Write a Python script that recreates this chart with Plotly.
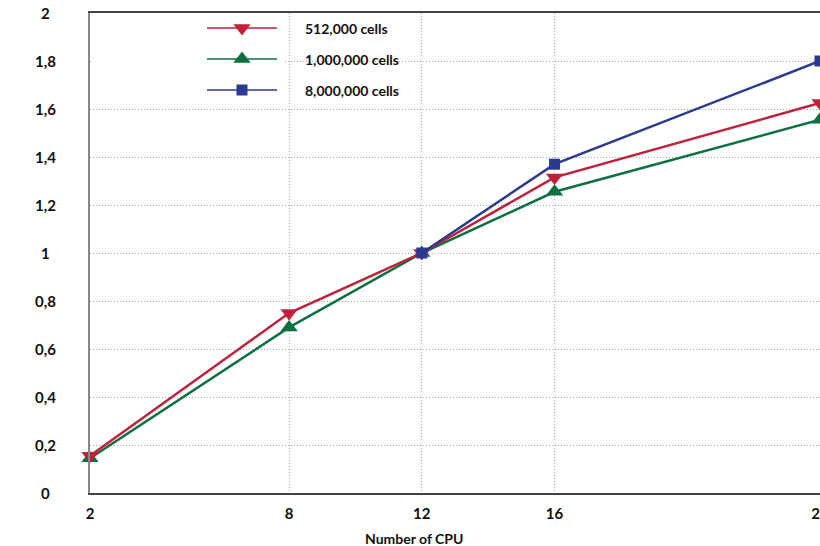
import plotly.graph_objects as go

cpu = [2, 8, 12, 16, 24]
cells_512k = [0.155, 0.75, 1.0, 1.315, 1.625]
cells_1m = [0.145, 0.69, 1.0, 1.255, 1.555]
cpu_8m = [12, 16, 24]
cells_8m = [1.0, 1.37, 1.80]
series_names = ["512,000 cells", "1,000,000 cells", "8,000,000 cells"]
y_ticks = [0, 0.2, 0.4, 0.6, 0.8, 1.0, 1.2, 1.4, 1.6, 1.8, 2.0]
y_ticktext = ["0", "0,2", "0,4", "0,6", "0,8", "1", "1,2", "1,4", "1,6", "1,8", "2"]
x_ticks = [2, 8, 12, 16, 24]

RED = "#C0203A"
GREEN = "#0D7040"
BLUE = "#2B3990"
FONT = "Lato"
GRID = "#a8a8a8"

fig = go.Figure()
common = dict(mode="lines+markers", cliponaxis=False, showlegend=False)
fig.add_trace(go.Scatter(x=cpu, y=cells_1m, name=series_names[1],
                         line=dict(color=GREEN, width=2.5),
                         marker=dict(symbol="triangle-up", size=15, color=GREEN), **common))
fig.add_trace(go.Scatter(x=cpu, y=cells_512k, name=series_names[0],
                         line=dict(color=RED, width=2.5),
                         marker=dict(symbol="triangle-down", size=15, color=RED), **common))
fig.add_trace(go.Scatter(x=cpu_8m, y=cells_8m, name=series_names[2],
                         line=dict(color=BLUE, width=2.5),
                         marker=dict(symbol="square", size=11, color=BLUE), **common))

# Manual legend on an overlay axis measured in pixels of the plot area
# white box behind legend (covers gridlines left of x=8)
fig.add_trace(go.Scatter(x=[91, 285, 285, 91, 91], y=[15, 15, 102, 102, 15],
                         xaxis="x2", yaxis="y2", mode="lines", fill="toself",
                         fillcolor="white", line=dict(width=0, color="white"),
                         showlegend=False, hoverinfo="skip"))
leg_colors = [RED, GREEN, BLUE]
leg_symbols = ["triangle-down", "triangle-up", "square"]
leg_sizes = [15, 15, 11]
leg_rows = [28, 59, 90]
for name, c, s, sz, yy in zip(series_names, leg_colors, leg_symbols, leg_sizes, leg_rows):
    fig.add_trace(go.Scatter(x=[207, 242, 277], y=[yy, yy, yy], xaxis="x2", yaxis="y2",
                             mode="lines", line=dict(color=c, width=1.5),
                             showlegend=False, hoverinfo="skip"))
    fig.add_trace(go.Scatter(x=[242], y=[yy], xaxis="x2", yaxis="y2", mode="markers",
                             marker=dict(symbol=s, size=sz, color=c),
                             showlegend=False, hoverinfo="skip"))
    fig.add_annotation(x=303, y=yy, xref="x2", yref="y2", text=name, showarrow=False,
                       xanchor="left", yanchor="middle",
                       font=dict(family=FONT, size=14, color="#111", weight="bold"))

# y tick labels (centered)
for v, t in zip(y_ticks, y_ticktext):
    fig.add_annotation(x=0, y=v, xref="paper", yref="y", text=t, showarrow=False,
                       xanchor="center", yanchor="middle", xshift=-45,
                       font=dict(family=FONT, size=15, color="#111", weight="bold"))

fig.add_annotation(x=0.444, y=-0.094, xref="paper", yref="paper", text="Number of CPU",
                   showarrow=False, xanchor="center", yanchor="middle",
                   font=dict(family=FONT, size=14, color="#111", weight="bold"))

fig.update_layout(
    width=820, height=546,
    margin=dict(l=90, r=0, t=13, b=53, autoexpand=False),
    paper_bgcolor="white", plot_bgcolor="white",
    xaxis=dict(range=[2, 24], tickvals=x_ticks, ticktext=[str(v) for v in x_ticks],
               showgrid=True, gridcolor=GRID, griddash="1px,2px", gridwidth=1,
               showline=True, linecolor="#444", linewidth=1.5, mirror=True,
               ticks="", ticklabelstandoff=6, zeroline=False, ticklabeloverflow="allow",
               automargin=False,
               tickfont=dict(family=FONT, size=15, color="#111", weight="bold")),
    yaxis=dict(range=[0, 2], tickvals=y_ticks, showticklabels=False,
               showgrid=True, gridcolor=GRID, griddash="1px,2px", gridwidth=1,
               showline=True, linecolor="#888", linewidth=1.5,
               ticks="", zeroline=False, automargin=False),
    xaxis2=dict(overlaying="x", range=[90, 820], visible=False, fixedrange=True),
    yaxis2=dict(overlaying="y", range=[493, 13], visible=False, fixedrange=True),
)

fig.write_html("out.html", config={"displayModeBar": False},
               post_script="document.body.style.margin='0px';document.body.style.overflow='hidden';")
